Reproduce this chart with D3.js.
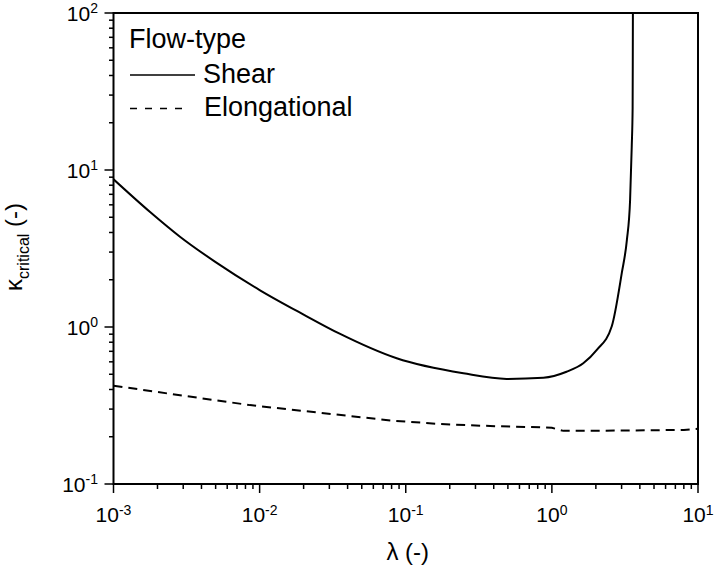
<!DOCTYPE html>
<html><head><meta charset="utf-8">
<script src="https://cdn.jsdelivr.net/npm/d3@7"></script>
<style>
body{margin:0;background:#fff;}
text{font-family:"Liberation Sans",Arial,Helvetica,sans-serif;fill:#000;}
</style></head>
<body><svg id="chart" width="714" height="574"></svg>
<script>
// Data
const shearLambda = [0.001, 0.00178, 0.00285, 0.005, 0.01, 0.02, 0.035, 0.0867, 0.248, 0.49, 0.875, 1.26, 1.64, 2.03, 2.57, 3.01, 3.26, 3.43, 3.52, 3.57, 3.58, 3.585];
const shearKappa  = [8.73, 5.40, 3.76, 2.59, 1.72, 1.20, 0.91, 0.632, 0.507, 0.467, 0.475, 0.519, 0.587, 0.714, 1.01, 2.21, 3.58, 6.44, 14.1, 25, 60, 100];
const elongLambda = [0.001, 0.003, 0.0086, 0.0822, 0.172, 0.378, 0.83, 1.0, 1.2, 3.0, 8.0, 10];
const elongKappa  = [0.423, 0.365, 0.318, 0.253, 0.241, 0.234, 0.2296, 0.228, 0.218, 0.219, 0.221, 0.225];
const xTicks = [1e-3, 1e-2, 1e-1, 1e0, 1e1];
const xTickExp = ["-3", "-2", "-1", "0", "1"];
const yTicks = [1e-1, 1e0, 1e1, 1e2];
const yTickExp = ["-1", "0", "1", "2"];
const legendTitle = "Flow-type";
const seriesNames = ["Shear", "Elongational"];

const svg = d3.select("#chart");
const L = 113.5, R = 698, T = 13, B = 484;
const x = d3.scaleLog().domain([1e-3, 1e1]).range([L, R]);
const y = d3.scaleLog().domain([1e-1, 1e2]).range([B, T]);

svg.append("defs").append("clipPath").attr("id", "clip")
  .append("rect").attr("x", L).attr("y", T).attr("width", R - L).attr("height", B - T);

// minor ticks
const xMinor = [], yMinor = [];
for (let e = -3; e < 1; e++) for (let m = 2; m <= 9; m++) xMinor.push(m * Math.pow(10, e));
for (let e = -1; e < 2; e++) for (let m = 2; m <= 9; m++) yMinor.push(m * Math.pow(10, e));

const gx = svg.append("g");
gx.selectAll("line.mn").data(xMinor).join("line")
  .attr("x1", d => x(d)).attr("x2", d => x(d)).attr("y1", B).attr("y2", B + 5)
  .attr("stroke", "#000").attr("stroke-width", 1.5);
gx.selectAll("line.mj").data(xTicks).join("line")
  .attr("x1", d => x(d)).attr("x2", d => x(d)).attr("y1", B).attr("y2", B + 9)
  .attr("stroke", "#000").attr("stroke-width", 1.5);
const gy = svg.append("g");
gy.selectAll("line.mn").data(yMinor).join("line")
  .attr("x1", L - 4.5).attr("x2", L).attr("y1", d => y(d)).attr("y2", d => y(d))
  .attr("stroke", "#000").attr("stroke-width", 1.5);
gy.selectAll("line.mj").data(yTicks).join("line")
  .attr("x1", L - 9).attr("x2", L).attr("y1", d => y(d)).attr("y2", d => y(d))
  .attr("stroke", "#000").attr("stroke-width", 1.5);

// tick labels
xTicks.forEach((t, i) => {
  const tx = svg.append("text").attr("x", x(t)).attr("y", 522)
    .attr("text-anchor", "middle").attr("font-size", 21);
  tx.append("tspan").text("10");
  tx.append("tspan").attr("font-size", 14).attr("dy", -7.5).text(xTickExp[i]);
});
yTicks.forEach((t, i) => {
  const tx = svg.append("text").attr("x", 98).attr("y", y(t) + 7.5)
    .attr("text-anchor", "end").attr("font-size", 21);
  tx.append("tspan").text("10");
  tx.append("tspan").attr("font-size", 14).attr("dy", -7.5).text(yTickExp[i]);
});

// axis titles
svg.append("text").attr("x", (L + R) / 2 + 2).attr("y", 560).attr("text-anchor", "middle")
  .attr("font-size", 24).text("λ (-)");
const yl = svg.append("text").attr("transform", `translate(22,291) rotate(-90)`)
  .attr("text-anchor", "start").attr("font-size", 24);
yl.append("tspan").text("κ");
yl.append("tspan").attr("font-size", 16).attr("dy", 7).text("critical");
yl.append("tspan").attr("dy", -7).text(" (-)");

// lines
const line = d3.line().x(d => x(d[0])).y(d => y(d[1])).curve(d3.curveMonotoneX);
const plot = svg.append("g").attr("clip-path", "url(#clip)");
plot.append("path").datum(shearLambda.map((l, i) => [l, shearKappa[i]]))
  .attr("d", line).attr("fill", "none").attr("stroke", "#000").attr("stroke-width", 2);
plot.append("path").datum(elongLambda.map((l, i) => [l, elongKappa[i]]))
  .attr("d", d3.line().x(d => x(d[0])).y(d => y(d[1])))
  .attr("fill", "none").attr("stroke", "#000").attr("stroke-width", 2)
  .attr("stroke-dasharray", "9,6");

// frame
svg.append("rect").attr("x", L).attr("y", T).attr("width", R - L).attr("height", B - T)
  .attr("fill", "none").attr("stroke", "#000").attr("stroke-width", 2);

// legend
svg.append("text").attr("x", 129).attr("y", 48).attr("font-size", 27).text(legendTitle);
svg.append("line").attr("x1", 130).attr("x2", 195).attr("y1", 75).attr("y2", 75)
  .attr("stroke", "#000").attr("stroke-width", 1.5);
svg.append("text").attr("x", 203).attr("y", 83).attr("font-size", 27).text(seriesNames[0]);
svg.append("line").attr("x1", 130).attr("x2", 185).attr("y1", 108.5).attr("y2", 108.5)
  .attr("stroke", "#000").attr("stroke-width", 1.5).attr("stroke-dasharray", "7,8");
svg.append("text").attr("x", 204).attr("y", 116).attr("font-size", 27).text(seriesNames[1]);
</script></body></html>
